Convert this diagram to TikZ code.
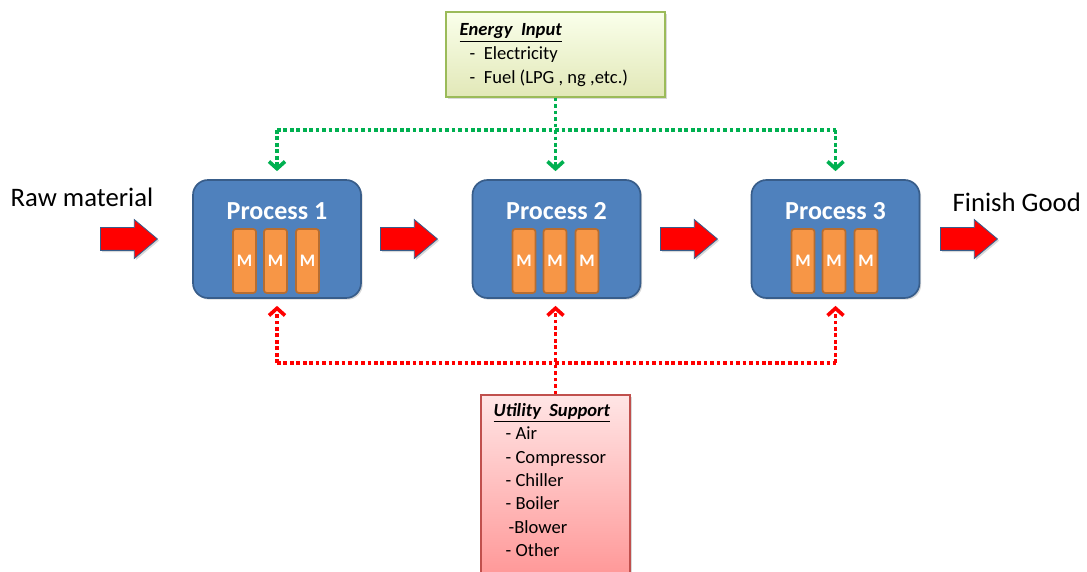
\documentclass[tikz,border=0pt]{standalone}
\usepackage{fontspec}
\setmainfont{Carlito}
\usetikzlibrary{arrows.meta, positioning, shapes.arrows, shadows}
\definecolor{cblue}{HTML}{4F81BD}
\definecolor{cbluedark}{HTML}{385D8A}
\definecolor{corange}{HTML}{F79646}
\definecolor{corangedark}{HTML}{B66D31}
\definecolor{cgreen}{HTML}{00B050}
\definecolor{clime}{HTML}{9BBB59}
\definecolor{cred}{HTML}{FF0000}
\definecolor{crose}{HTML}{C0504D}
\tikzset{
  every picture/.style={line width=1pt},
  shade/.style={drop shadow={shadow xshift=1.2pt, shadow yshift=-1.2pt, opacity=0.3}},
  proc/.style={draw=cbluedark, fill=cblue, rounded corners=0.375cm, minimum width=4.2cm, minimum height=2.95cm, line width=1.2pt, shade},
  ptitle/.style={text=white, font=\fontsize{18.5}{22}\selectfont\bfseries, inner sep=0pt},
  mbar/.style={draw=corangedark, fill=corange, rounded corners=2pt, minimum width=0.575cm, minimum height=1.6cm, line width=1.2pt,
    text=white, font=\fontsize{12.5}{14}\selectfont\bfseries, inner sep=0pt},
  flow/.style={single arrow, draw=cbluedark, line width=0.6pt, fill=cred, inner xsep=0pt, inner ysep=0.275cm, text height=0pt, text depth=0pt,
    single arrow head extend=0.2cm, single arrow tip angle=80, minimum height=1.425cm, anchor=tail, shade},
  side/.style={font=\fontsize{19}{22}\selectfont, inner sep=0pt},
  listtxt/.style={font=\fontsize{13.2}{17}\selectfont, align=left, inner sep=0pt},
  gline/.style={draw=cgreen, line width=2.6pt, dash pattern=on 2.6pt off 2pt},
  rline/.style={draw=cred, line width=2.6pt, dash pattern=on 2.6pt off 2pt},
}

\begin{document}
\begin{tikzpicture}
  \clip (0,0) rectangle (27.175,-14.3);
  \node[proc] (p1) at (6.925,-5.975) {};
  \node[proc] (p2) at (13.9125,-5.975) {};
  \node[proc] (p3) at (20.8875,-5.975) {};
  \node[ptitle] (t1) at (6.925,-5.275) {Process 1};
  \node[ptitle] (t2) at (13.9125,-5.275) {Process 2};
  \node[ptitle] (t3) at (20.8875,-5.275) {Process 3};
  \node[mbar] (m11) at (6.1125,-6.525) {M};
  \node[mbar] (m12) at (6.8875,-6.525) {M};
  \node[mbar] (m13) at (7.6875,-6.525) {M};
  \node[mbar] (m21) at (13.1,-6.525) {M};
  \node[mbar] (m22) at (13.875,-6.525) {M};
  \node[mbar] (m23) at (14.675,-6.525) {M};
  \node[mbar] (m31) at (20.075,-6.525) {M};
  \node[mbar] (m32) at (20.85,-6.525) {M};
  \node[mbar] (m33) at (21.65,-6.525) {M};
  \node[flow] (f0) at (2.5,-5.975) {};
  \node[flow] (f1) at (9.5,-5.975) {};
  \node[flow] (f2) at (16.5,-5.975) {};
  \node[flow] (f3) at (23.5,-5.975) {};
  \node[side, anchor=base west] (raw) at (0.25,-5.175) {Raw material};
  \node[side, anchor=base west] (good) at (23.8,-5.3) {Finish Good};
  \node[draw=clime, line width=1pt, top color=lime!8!white, bottom color=lime!35!olive!28!white, minimum width=5.475cm, minimum height=2.125cm, shade] (energy) at (13.8875,-1.3625) {};
  \node[listtxt, anchor=north west] (entxt) at (11.475,-0.58) {\underline{\textbf{\textit{Energy\ \ Input}}}\\
    \hspace*{0.25cm}-\ \ Electricity\\
    \hspace*{0.25cm}-\ \ Fuel (LPG , ng ,etc.)};
  \node[draw=crose, line width=1pt, top color=red!10!white, bottom color=red!42!white, minimum width=3.725cm, minimum height=4.75cm, shade] (util) at (13.8875,-12.25) {};
  \node[listtxt, font=\fontsize{13.2}{16.6}\selectfont, anchor=north west] (utxt) at (12.325,-10.07) {\underline{\textbf{\textit{Utility\ \ Support}}}\\
    \hspace*{0.3cm}- Air\\
    \hspace*{0.3cm}- Compressor\\
    \hspace*{0.3cm}- Chiller\\
    \hspace*{0.3cm}- Boiler\\
    \hspace*{0.375cm}-Blower\\
    \hspace*{0.3cm}- Other};
  \coordinate (gl) at (6.925,-3.25);
  \coordinate (gr) at (20.8875,-3.25);
  \coordinate (rl) at (6.925,-9.075);
  \coordinate (rr) at (20.8875,-9.075);
  \draw[gline] (gl) -- (gr);
  \draw[gline, -{Straight Barb[length=1.8mm, width=4mm]}, shorten >=0.2cm] (gl) -- (p1.north);
  \draw[gline, -{Straight Barb[length=1.8mm, width=4mm]}, shorten >=0.2cm] (energy.south) -- (energy.south |- p2.north);
  \draw[gline, -{Straight Barb[length=1.8mm, width=4mm]}, shorten >=0.2cm] (gr) -- (p3.north);
  \draw[rline] (rl) -- (rr);
  \draw[rline, -{Straight Barb[length=1.8mm, width=4mm]}, shorten >=0.175cm] (rl) -- (p1.south);
  \draw[rline, -{Straight Barb[length=1.8mm, width=4mm]}, shorten >=0.175cm] (util.north) -- (util.north |- p2.south);
  \draw[rline, -{Straight Barb[length=1.8mm, width=4mm]}, shorten >=0.175cm] (rr) -- (p3.south);
\end{tikzpicture}
\end{document}
